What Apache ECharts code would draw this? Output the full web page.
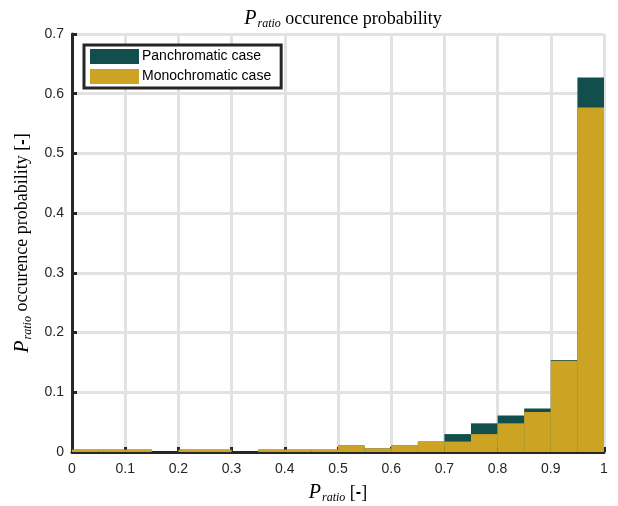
<!DOCTYPE html>
<html>
<head>
<meta charset="utf-8">
<script src="https://cdn.jsdelivr.net/npm/echarts@6/dist/echarts.min.js"></script>
<style>
  html, body { margin: 0; padding: 0; background: #fff; }
  #chart { width: 618px; height: 506px; }
</style>
</head>
<body>
<div id="chart"></div>
<script>
  // histogram bins, width 0.05
  var binStarts = [0, 0.05, 0.1, 0.15, 0.2, 0.25, 0.3, 0.35, 0.4, 0.45,
                   0.5, 0.55, 0.6, 0.65, 0.7, 0.75, 0.8, 0.85, 0.9, 0.95];
  var panchromatic = [0.004, 0.004, 0.004, 0, 0.004, 0.004, 0, 0.004, 0.004, 0.004,
                      0.011, 0.006, 0.011, 0.0175, 0.030, 0.048, 0.061, 0.073, 0.154, 0.627];
  var monochromatic = [0.004, 0.004, 0.004, 0, 0.004, 0.004, 0, 0.004, 0.004, 0.004,
                       0.011, 0.006, 0.011, 0.0175, 0.0175, 0.030, 0.048, 0.067, 0.153, 0.577];

  var serif = 'Liberation Serif';
  var sans = 'Liberation Sans';
  var richP = {
    p: { fontFamily: serif, fontStyle: 'italic', fontWeight: 'normal', fontSize: 20, color: '#000' },
    sub: { fontFamily: serif, fontStyle: 'italic', fontWeight: 'normal', fontSize: 12, color: '#000', padding: [10, 0, 0, 1] },
    t: { fontFamily: serif, fontWeight: 'normal', fontSize: 18, color: '#000' },
    b: { fontFamily: sans, fontWeight: 'bold', fontSize: 16, color: '#000' }
  };

  var chart = echarts.init(document.getElementById('chart'));
  chart.setOption({
    animation: false,
    title: {
      text: '{p|P}{sub|ratio}{t| occurence probability}',
      left: 338,
      textAlign: 'center',
      top: 3,
      textStyle: { fontWeight: 'normal', rich: richP }
    },
    legend: {
      orient: 'vertical',
      left: 84,
      top: 45,
      icon: 'rect',
      itemWidth: 49,
      itemHeight: 15,
      itemGap: 5,
      padding: [4, 10, 4, 6],
      backgroundColor: '#fff',
      borderColor: '#262626',
      borderWidth: 3,
      borderRadius: 0,
      textStyle: { fontFamily: sans, fontSize: 14, color: '#000', padding: [0, 0, 0, -2] },
      data: ['Panchromatic case', 'Monochromatic case']
    },
    grid: { left: 72, right: 14, top: 34, bottom: 54, containLabel: false, outerBoundsMode: 'none' },
    xAxis: [{
      type: 'value',
      min: 0, max: 1, interval: 0.1,
      name: '{p|P}{sub|ratio}{t| [}{b|-}{t|]}',
      nameLocation: 'middle',
      nameGap: 30,
      nameTextStyle: { rich: richP },
      axisLine: { lineStyle: { color: '#262626', width: 3 } },
      axisTick: { inside: true, length: 5, lineStyle: { color: '#262626', width: 3 } },
      axisLabel: { fontFamily: sans, fontSize: 14, color: '#262626', margin: 10 },
      splitLine: { lineStyle: { color: '#e2e2e2', width: 3 } }
    }, {
      type: 'category',
      data: binStarts,
      show: false,
      boundaryGap: true
    }],
    yAxis: {
      type: 'value',
      min: 0, max: 0.7, interval: 0.1,
      name: '{p|P}{sub|ratio}{t| occurence probability [}{b|-}{t|]}',
      nameLocation: 'middle',
      nameRotate: 90,
      nameGap: 37,
      nameTextStyle: { rich: richP },
      axisLine: { show: true, lineStyle: { color: '#262626', width: 3 } },
      axisTick: { show: true, inside: true, length: 5, lineStyle: { color: '#262626', width: 3 } },
      axisLabel: { fontFamily: sans, fontSize: 14, color: '#262626', margin: 8 },
      splitLine: { lineStyle: { color: '#e2e2e2', width: 3 } }
    },
    series: [{
      name: 'Panchromatic case',
      type: 'bar',
      xAxisIndex: 1,
      barWidth: '100%',
      barGap: '-100%',
      itemStyle: { color: '#124e4b' },
      data: panchromatic
    }, {
      name: 'Monochromatic case',
      type: 'bar',
      xAxisIndex: 1,
      barWidth: '100%',
      barGap: '-100%',
      itemStyle: { color: '#cca323' },
      data: monochromatic
    }]
  });
</script>
</body>
</html>
